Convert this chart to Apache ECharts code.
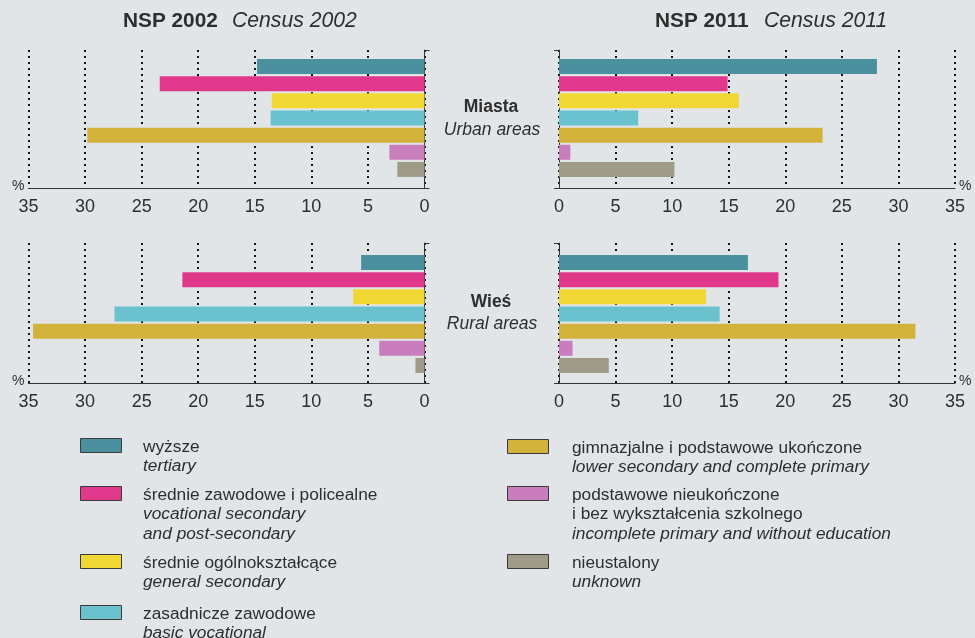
<!DOCTYPE html>
<html><head><meta charset="utf-8">
<script src="https://cdn.jsdelivr.net/npm/echarts@6/dist/echarts.min.js"></script>
<style>html,body{margin:0;padding:0;background:#e2e5e8}#c{width:975px;height:638px}</style>
</head><body><div id="c"></div>
<script>
// ---- data ----
const categories = ['wyższe', 'średnie zawodowe i policealne', 'średnie ogólnokształcące', 'zasadnicze zawodowe', 'gimnazjalne i podstawowe ukończone', 'podstawowe nieukończone i bez wykształcenia szkolnego', 'nieustalony'];
const urban2002 = [14.8, 23.4, 13.5, 13.6, 29.8, 3.1, 2.4];
const urban2011 = [28.1, 14.9, 15.9, 7.0, 23.3, 1.0, 10.2];
const rural2002 = [5.6, 21.4, 6.3, 27.4, 34.6, 4.0, 0.8];
const rural2011 = [16.7, 19.4, 13.0, 14.2, 31.5, 1.2, 4.4];
const legendPl = [['wyższe'], ['średnie zawodowe i policealne'], ['średnie ogólnokształcące'], ['zasadnicze zawodowe'], ['gimnazjalne i podstawowe ukończone'], ['podstawowe nieukończone', 'i bez wykształcenia szkolnego'], ['nieustalony']];
const legendEn = [['tertiary'], ['vocational secondary', 'and post-secondary'], ['general secondary'], ['basic vocational'], ['lower secondary and complete primary'], ['incomplete primary and without education'], ['unknown']];
const titles = [['NSP 2002', 'Census 2002'], ['NSP 2011', 'Census 2011']];
const areaLabels = [['Miasta', 'Urban areas'], ['Wieś', 'Rural areas']];

// ---- styles ----
const colors = ['#4a909e', '#e0398b', '#f1d734', '#69c2cd', '#d3b23c', '#c97dbc', '#a09a88'];
const FONT = '"Liberation Sans", Arial, sans-serif';
const TXT = '#2e2e2e';

const panels = [
  { data: urban2002, left: 28.5, axisTop: 50, axisBottom: 188, barTop: 58, inverse: true },
  { data: urban2011, left: 559, axisTop: 50, axisBottom: 188, barTop: 58, inverse: false },
  { data: rural2002, left: 28.5, axisTop: 243, axisBottom: 383, barTop: 254, inverse: true },
  { data: rural2011, left: 559, axisTop: 243, axisBottom: 383, barTop: 254, inverse: false }
];
const PW = 396;

const grid = [], xAxis = [], yAxis = [], series = [];
panels.forEach((p, i) => {
  const ga = 2 * i, gb = 2 * i + 1;
  grid.push({ left: p.left, top: p.axisTop, width: PW, height: p.axisBottom - p.axisTop });
  grid.push({ left: p.left, top: p.barTop, width: PW, height: 120 });
  xAxis.push({
    gridIndex: ga, type: 'value', min: 0, max: 35, interval: 5, inverse: p.inverse,
    axisLine: { show: true, onZero: false, lineStyle: { color: '#333', width: 1 } },
    axisTick: { show: false },
    axisLabel: { fontSize: 18, color: TXT, margin: 10, fontFamily: FONT },
    splitLine: { show: true, lineStyle: { type: [2, 4], color: '#151515', width: 2 } },
    name: '%', nameLocation: 'end', nameGap: 4,
    nameTextStyle: { fontSize: 14, color: TXT, fontFamily: FONT, verticalAlign: 'bottom', padding: [0, 0, -5, 0] }
  });
  yAxis.push({
    gridIndex: ga, type: 'value', min: 0, max: 1, interval: 1,
    position: p.inverse ? 'right' : 'left',
    axisLine: { show: true, onZero: false, lineStyle: { color: '#333', width: 1 } },
    axisTick: { show: true, length: 5, lineStyle: { color: '#333' } },
    axisLabel: { show: false }, splitLine: { show: false }
  });
  xAxis.push({ gridIndex: gb, type: 'value', min: 0, max: 35, inverse: p.inverse, show: false });
  yAxis.push({ gridIndex: gb, type: 'category', data: categories, inverse: true, show: false });
  series.push({
    type: 'bar', xAxisIndex: gb, yAxisIndex: gb, data: p.data, barWidth: 15, silent: true,
    itemStyle: { color: (prm) => colors[prm.dataIndex] }
  });
});

function txt(x, y, text, font, align) {
  return {
    type: 'text', x: x, y: y, silent: true,
    style: { text: text, font: font, fill: TXT, align: align || 'left', verticalAlign: 'middle',
             textAlign: align || 'left', textVerticalAlign: 'middle' }
  };
}

const graphics = [];
// titles
const titleX = [[123, 232], [655, 764]];
titles.forEach((t, i) => {
  graphics.push(txt(titleX[i][0], 21, t[0], 'bold 20.8px ' + FONT));
  graphics.push(txt(titleX[i][1], 21, t[1], 'italic 21.2px ' + FONT));
});
// area labels
const areaY = [[107, 130], [302, 324]];
areaLabels.forEach((a, i) => {
  graphics.push(txt(491, areaY[i][0], a[0], 'bold 17.5px ' + FONT, 'center'));
  graphics.push(txt(492, areaY[i][1], a[1], 'italic 17.5px ' + FONT, 'center'));
});
// legend
const legLayout = [
  { sx: 80.5, tx: 143, top: 438.5 }, { sx: 80.5, tx: 143, top: 486.5 },
  { sx: 80.5, tx: 143, top: 554.5 }, { sx: 80.5, tx: 143, top: 605.5 },
  { sx: 507.5, tx: 572, top: 439.5 }, { sx: 507.5, tx: 572, top: 486.5 },
  { sx: 507.5, tx: 572, top: 554.5 }
];
legLayout.forEach((L, k) => {
  graphics.push({ type: 'rect', silent: true, shape: { x: L.sx, y: L.top, width: 41, height: 14 },
    style: { fill: colors[k], stroke: '#3a3a3a', lineWidth: 1 } });
  let y = L.top + 8.5;
  legendPl[k].forEach(s => { graphics.push(txt(L.tx, y, s, '17.3px ' + FONT)); y += 19.5; });
  legendEn[k].forEach(s => { graphics.push(txt(L.tx, y, s, 'italic 17.3px ' + FONT)); y += 19.5; });
});

const chart = echarts.init(document.getElementById('c'), null, { renderer: 'canvas' });
chart.setOption({
  backgroundColor: '#e2e5e8',
  animation: false,
  grid: grid, xAxis: xAxis, yAxis: yAxis, series: series,
  graphic: { elements: graphics }
});
</script></body></html>
